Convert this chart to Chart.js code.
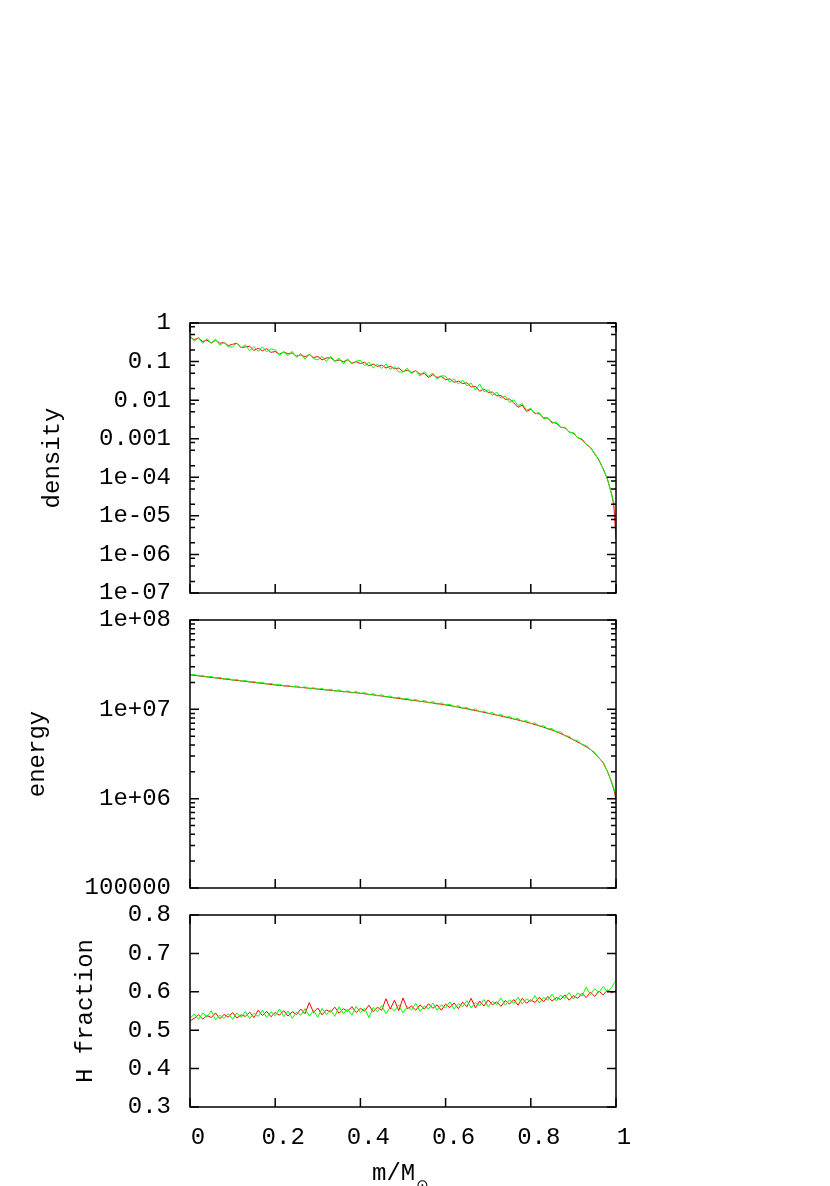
<!DOCTYPE html>
<html>
<head>
<title>density / energy / H fraction</title>
<script src="https://cdn.jsdelivr.net/npm/chart.js"></script>
<style>
  body { margin: 0; background: #fff; }
  #wrap { position: relative; width: 830px; height: 1186px; }
  #wrap canvas { position: absolute; left: 0; top: 0; }
</style>
</head>
<body>
<div id="wrap">
  <canvas id="densityChart" width="830" height="1186"></canvas>
  <canvas id="energyChart" width="830" height="1186"></canvas>
  <canvas id="hChart" width="830" height="1186"></canvas>
</div>
<script>
// mass coordinate m/M_sun
var mass = [
  0.00,0.01,0.02,0.03,0.04,0.05,0.06,0.07,0.08,0.09,
  0.10,0.11,0.12,0.13,0.14,0.15,0.16,0.17,0.18,0.19,
  0.20,0.21,0.22,0.23,0.24,0.25,0.26,0.27,0.28,0.29,
  0.30,0.31,0.32,0.33,0.34,0.35,0.36,0.37,0.38,0.39,
  0.40,0.41,0.42,0.43,0.44,0.45,0.46,0.47,0.48,0.49,
  0.50,0.51,0.52,0.53,0.54,0.55,0.56,0.57,0.58,0.59,
  0.60,0.61,0.62,0.63,0.64,0.65,0.66,0.67,0.68,0.69,
  0.70,0.71,0.72,0.73,0.74,0.75,0.76,0.77,0.78,0.79,
  0.80,0.81,0.82,0.83,0.84,0.85,0.86,0.87,0.88,0.89,
  0.90,0.91,0.92,0.93,0.94,0.95,0.96,0.97,0.98,0.99,
  0.995,1.00
];

var densityRed = [
  0.43,0.37,0.41,0.33,0.36,0.30,0.36,0.30,0.31,0.26,
  0.28,0.30,0.23,0.24,0.25,0.195,0.22,0.19,0.217,0.173,
  0.182,0.156,0.177,0.159,0.168,0.138,0.150,0.132,0.151,0.127,
  0.135,0.111,0.124,0.125,0.103,0.110,0.099,0.110,0.091,0.099,
  0.089,0.096,0.077,0.086,0.075,0.081,0.068,0.076,0.065,0.068,
  0.055,0.060,0.052,0.058,0.047,0.049,0.0385,0.046,0.0387,0.041,
  0.034,0.0356,0.029,0.0313,0.0268,0.0282,0.0219,0.0229,0.017,0.0195,
  0.0158,0.0162,0.0129,0.0132,0.0105,0.0107,0.0085,0.0065,0.0074,0.0051,
  0.0058,0.0046,0.0044,0.0035,0.0034,0.0027,0.0025,0.0020,0.0019,0.0015,
  0.00138,0.00107,0.00095,0.00072,0.00059,0.00041,0.000275,0.000166,0.000089,0.0000355,
  0.000018,0.0000025
];
var densityGreen = [
  0.468,0.334,0.415,0.297,0.394,0.302,0.382,0.266,0.313,0.239,
  0.240,0.303,0.226,0.273,0.190,0.245,0.183,0.242,0.180,0.213,
  0.204,0.146,0.181,0.142,0.185,0.129,0.161,0.115,0.158,0.119,
  0.110,0.137,0.100,0.137,0.101,0.123,0.0863,0.118,0.0867,0.103,
  0.107,0.0783,0.0973,0.0679,0.0863,0.0661,0.0871,0.0631,0.0741,0.0537,
  0.0537,0.0676,0.0479,0.0589,0.0417,0.0550,0.0413,0.0504,0.0353,0.0431,
  0.0417,0.0290,0.0358,0.0261,0.0330,0.0234,0.0275,0.0186,0.0263,0.0166,
  0.0186,0.0132,0.0162,0.0112,0.0129,0.00871,0.0102,0.00724,0.00813,0.00550,
  0.00617,0.00437,0.00479,0.00331,0.00355,0.00251,0.00275,0.00195,0.00200,0.00145,
  0.00145,0.00105,0.00100,0.000724,0.000603,0.000398,0.000288,0.000162,0.0000891,0.0000355,
  0.0000219,0.000019
];

var energyRed = [
  24.3e6,24.0e6,23.7e6,23.4e6,23.1e6,22.8e6,22.5e6,22.2e6,21.9e6,21.6e6,
  21.3e6,21.05e6,20.8e6,20.55e6,20.3e6,20.0e6,19.75e6,19.5e6,19.25e6,19.0e6,
  18.75e6,18.56e6,18.37e6,18.18e6,17.99e6,17.8e6,17.61e6,17.42e6,17.23e6,17.04e6,
  16.85e6,16.68e6,16.51e6,16.34e6,16.17e6,16.0e6,15.82e6,15.65e6,15.48e6,15.31e6,
  15.14e6,14.93e6,14.72e6,14.51e6,14.3e6,14.09e6,13.88e6,13.67e6,13.45e6,13.24e6,
  13.03e6,12.85e6,12.67e6,12.49e6,12.31e6,12.13e6,11.94e6,11.76e6,11.58e6,11.4e6,
  11.22e6,11.0e6,10.79e6,10.57e6,10.35e6,10.13e6,9.91e6,9.69e6,9.48e6,9.26e6,
  9.04e6,8.83e6,8.63e6,8.42e6,8.22e6,8.01e6,7.8e6,7.6e6,7.39e6,7.19e6,
  6.98e6,6.75e6,6.53e6,6.3e6,6.07e6,5.85e6,5.62e6,5.36e6,5.1e6,4.83e6,
  4.57e6,4.31e6,4.06e6,3.81e6,3.55e6,3.22e6,2.87e6,2.51e6,2.02e6,1.51e6,
  1.26e6,0.98e6
];
var energyGreen = [
  24.2e6,24.6e6,23.5e6,23.9e6,22.9e6,23.4e6,22.3e6,22.8e6,21.7e6,22.2e6,
  21.1e6,21.6e6,20.6e6,21.1e6,20.1e6,20.5e6,19.6e6,20.1e6,19.1e6,19.5e6,
  18.6e6,19.1e6,18.2e6,18.6e6,17.8e6,18.3e6,17.4e6,17.9e6,17.0e6,17.5e6,
  16.7e6,17.1e6,16.3e6,16.8e6,16.0e6,16.5e6,15.6e6,16.1e6,15.3e6,15.8e6,
  15.0e6,15.4e6,14.5e6,15.0e6,14.1e6,14.6e6,13.7e6,14.1e6,13.3e6,13.7e6,
  12.9e6,13.3e6,12.5e6,12.9e6,12.1e6,12.6e6,11.8e6,12.2e6,11.4e6,11.8e6,
  11.1e6,11.4e6,10.6e6,11.0e6,10.2e6,10.5e6,9.78e6,10.1e6,9.35e6,9.6e6,
  8.95e6,9.2e6,8.5e6,8.75e6,8.1e6,8.35e6,7.7e6,7.9e6,7.3e6,7.5e6,
  6.9e6,7.05e6,6.45e6,6.55e6,6.0e6,6.1e6,5.55e6,5.6e6,5.05e6,5.0e6,
  4.52e6,4.5e6,4.02e6,3.95e6,3.52e6,3.3e6,2.85e6,2.55e6,2.02e6,1.53e6,
  1.3e6,1.08e6
];

var hRed = [
  0.524,0.531,0.540,0.529,0.538,0.533,0.545,0.530,0.541,0.534,
  0.546,0.532,0.540,0.536,0.547,0.533,0.552,0.538,0.549,0.535,
  0.546,0.539,0.551,0.537,0.548,0.541,0.555,0.543,0.572,0.546,
  0.558,0.540,0.553,0.547,0.560,0.544,0.556,0.549,0.561,0.546,
  0.557,0.550,0.565,0.548,0.560,0.552,0.582,0.555,0.578,0.551,
  0.584,0.556,0.563,0.552,0.566,0.555,0.569,0.557,0.566,0.552,
  0.568,0.559,0.571,0.556,0.573,0.561,0.583,0.558,0.576,0.563,
  0.579,0.566,0.574,0.562,0.577,0.568,0.580,0.565,0.583,0.570,
  0.579,0.572,0.586,0.574,0.588,0.576,0.585,0.580,0.592,0.578,
  0.590,0.583,0.596,0.585,0.599,0.588,0.602,0.592,0.605,0.597,
  0.600,0.603
];
var hGreen = [
  0.531,0.542,0.528,0.545,0.534,0.551,0.527,0.539,0.531,0.543,
  0.528,0.545,0.533,0.549,0.530,0.544,0.536,0.552,0.533,0.548,
  0.538,0.555,0.535,0.550,0.531,0.547,0.539,0.556,0.537,0.551,
  0.534,0.557,0.541,0.553,0.536,0.561,0.543,0.555,0.539,0.562,
  0.546,0.557,0.533,0.559,0.548,0.564,0.543,0.560,0.550,0.566,
  0.545,0.561,0.553,0.570,0.549,0.563,0.555,0.571,0.552,0.566,
  0.558,0.574,0.555,0.569,0.561,0.577,0.558,0.572,0.564,0.580,
  0.561,0.575,0.567,0.584,0.565,0.579,0.570,0.586,0.568,0.582,
  0.574,0.590,0.571,0.585,0.578,0.594,0.576,0.591,0.583,0.598,
  0.581,0.597,0.589,0.612,0.593,0.608,0.598,0.614,0.600,0.611,
  0.622,0.628
];

// ticks
var mTicks = [0, 0.2, 0.4, 0.6, 0.8, 1];
var mTickLabels = ["0", "0.2", "0.4", "0.6", "0.8", "1"];
var densityTicks = [1e-7, 1e-6, 1e-5, 1e-4, 1e-3, 1e-2, 1e-1, 1];
var densityTickLabels = ["1e-07", "1e-06", "1e-05", "1e-04", "0.001", "0.01", "0.1", "1"];
var densityMinor = [2, 5, 8];
var energyTicks = [1e5, 1e6, 1e7, 1e8];
var energyTickLabels = ["100000", "1e+06", "1e+07", "1e+08"];
var energyMinor = [2, 3, 4, 5, 6, 7, 8, 9];
var hTicks = [0.3, 0.4, 0.5, 0.6, 0.7, 0.8];
var hTickLabels = ["0.3", "0.4", "0.5", "0.6", "0.7", "0.8"];

var FONT = { family: "'Liberation Mono', 'Courier New', monospace", size: 24 };

function pts(ys) {
  return mass.map(function (m, i) { return { x: m, y: ys[i] }; });
}

// gnuplot-like frame with tics pointing inwards (top/bottom and left/right)
function framePlugin(yMajor, minorSteps) {
  return {
    id: "frame",
    afterDatasetsDraw: function (chart) {
      var ctx = chart.ctx, a = chart.chartArea;
      var xs = chart.scales.x, ys = chart.scales.y;
      ctx.save();
      ctx.strokeStyle = "#000";
      ctx.lineWidth = 1.5;
      ctx.beginPath();
      mTicks.forEach(function (v) {
        var px = xs.getPixelForValue(v);
        ctx.moveTo(px, a.bottom); ctx.lineTo(px, a.bottom - 9);
        ctx.moveTo(px, a.top); ctx.lineTo(px, a.top + 9);
      });
      yMajor.forEach(function (v, i) {
        var py = ys.getPixelForValue(v);
        ctx.moveTo(a.left, py); ctx.lineTo(a.left + 9, py);
        ctx.moveTo(a.right, py); ctx.lineTo(a.right - 9, py);
        if (minorSteps && i < yMajor.length - 1) {
          minorSteps.forEach(function (k) {
            var q = ys.getPixelForValue(v * k);
            ctx.moveTo(a.left, q); ctx.lineTo(a.left + 5, q);
            ctx.moveTo(a.right, q); ctx.lineTo(a.right - 5, q);
          });
        }
      });
      ctx.stroke();
      ctx.strokeRect(a.left, a.top, a.right - a.left, a.bottom - a.top);
      ctx.restore();
    }
  };
}

// x title with subscript sun symbol
var xTitlePlugin = {
  id: "xtitle",
  afterDraw: function (chart) {
    var ctx = chart.ctx;
    ctx.save();
    ctx.fillStyle = "#000";
    ctx.textBaseline = "alphabetic";
    ctx.textAlign = "left";
    ctx.font = "24px 'Liberation Mono', monospace";
    ctx.fillText("m/M", 372, 1180);
    var w = ctx.measureText("m/M").width;
    ctx.font = "15px 'DejaVu Sans', sans-serif";
    ctx.fillText("\u2299", 372 + w + 1, 1190);
    ctx.restore();
  }
};

function makePanel(id, o) {
  var plugins = [framePlugin(o.ticks, o.minor)];
  if (o.showX) plugins.push(xTitlePlugin);
  return new Chart(document.getElementById(id), {
    type: "line",
    data: {
      datasets: [
        { label: "red", data: pts(o.red), borderColor: "#ff0000", borderWidth: 1, pointRadius: 0, order: 2 },
        { label: "green", data: pts(o.green), borderColor: "#00ff00", borderWidth: 1, pointRadius: 0, order: 1 }
      ]
    },
    options: {
      responsive: false,
      animation: false,
      events: [],
      layout: { padding: { left: o.padLeft, right: 214, top: o.top, bottom: o.bottom } },
      plugins: { legend: { display: false }, tooltip: { enabled: false } },
      scales: {
        x: {
          type: "linear",
          min: 0,
          max: 1,
          display: o.showX,
          grid: { display: false, drawTicks: false, tickLength: 0 },
          border: { display: false },
          afterBuildTicks: function (s) { s.ticks = mTicks.map(function (v) { return { value: v }; }); },
          afterFit: function (s) { s.height = o.showX ? 79 : 0; },
          ticks: {
            font: FONT,
            color: "#000",
            padding: 16,
            labelOffset: 8,
            maxRotation: 0,
            autoSkip: false,
            callback: function (v, i) { return mTickLabels[i]; }
          }
        },
        y: {
          type: o.log ? "logarithmic" : "linear",
          min: o.ticks[0],
          max: o.ticks[o.ticks.length - 1],
          grid: { display: false, drawTicks: false, tickLength: 0 },
          border: { display: false },
          afterBuildTicks: function (s) { s.ticks = o.ticks.map(function (v) { return { value: v }; }); },
          afterFit: function (s) { s.width = 190 - o.padLeft; },
          title: { display: true, text: o.title, font: FONT, color: "#000", padding: { top: 4, bottom: 4 } },
          ticks: {
            font: FONT,
            color: "#000",
            padding: 19,
            autoSkip: false,
            callback: function (v, i) { return o.labels[i]; }
          }
        }
      }
    },
    plugins: plugins
  });
}

makePanel("densityChart", {
  red: densityRed, green: densityGreen, log: true,
  ticks: densityTicks, labels: densityTickLabels, minor: densityMinor,
  title: "density", padLeft: 34, top: 323, bottom: 593, showX: false
});
makePanel("energyChart", {
  red: energyRed, green: energyGreen, log: true,
  ticks: energyTicks, labels: energyTickLabels, minor: energyMinor,
  title: "energy", padLeft: 19, top: 620, bottom: 298, showX: false
});
makePanel("hChart", {
  red: hRed, green: hGreen, log: false,
  ticks: hTicks, labels: hTickLabels, minor: null,
  title: "H fraction", padLeft: 67, top: 915, bottom: 0, showX: true
});
</script>
</body>
</html>
